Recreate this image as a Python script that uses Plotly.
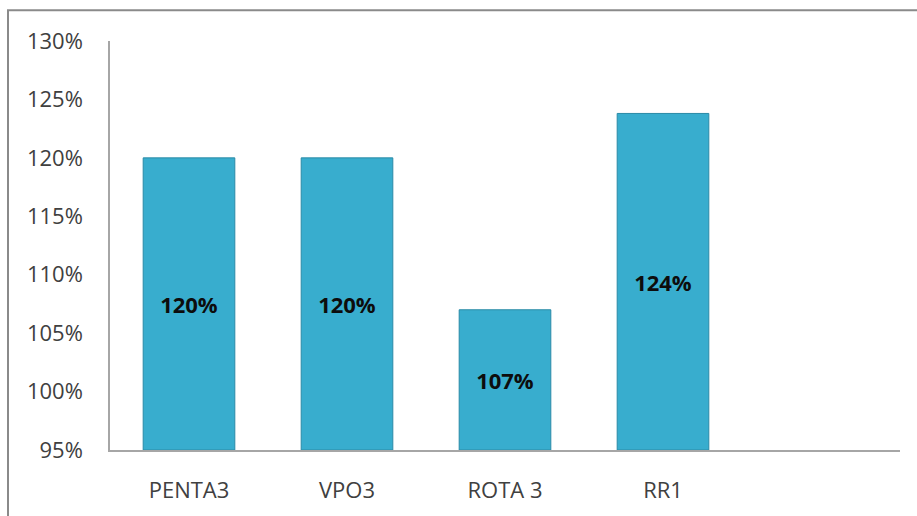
import plotly.graph_objects as go

categories = ["PENTA3", "VPO3", "ROTA 3", "RR1"]
values = [1.20, 1.20, 1.07, 1.238]
tick_values = [0.95, 1.00, 1.05, 1.10, 1.15, 1.20, 1.25, 1.30]
y_min, y_max = 0.95, 1.30

W, H = 917, 516
ml, mr, mt, mb = 110, 17, 41, 62
pw, ph = W - ml - mr, H - mt - mb

fig = go.Figure(
    go.Bar(
        x=categories,
        y=[v - y_min for v in values],
        base=[y_min] * len(values),
        customdata=values,
        marker=dict(color="#38ADCE", line=dict(color="#2A8AA6", width=1)),
        texttemplate="<b>%{customdata:.0%}</b>",
        hovertemplate="%{x}: %{customdata:.0%}<extra></extra>",
        textposition="inside",
        insidetextanchor="middle",
        textfont=dict(family="Open Sans", size=22, color="#0D0D0D"),
    )
)

def px_x(p):
    return (p - ml) / pw

def px_y(p):
    return (H - mb - p) / ph

fig.add_shape(
    type="rect", xref="paper", yref="paper",
    x0=px_x(8), x1=px_x(W + 20), y0=px_y(H + 20), y1=px_y(10),
    line=dict(color="#8A8A8A", width=2), fillcolor="rgba(0,0,0,0)", layer="below",
)

fig.update_layout(
    width=W, height=H,
    margin=dict(l=ml, r=mr, t=mt, b=mb, pad=0),
    paper_bgcolor="white", plot_bgcolor="white",
    showlegend=False,
    bargap=0.42,
    font=dict(family="Open Sans", size=22, color="#404040"),
    xaxis=dict(
        type="category", range=[-0.5, 4.5],
        showgrid=False, showline=True, linecolor="#A6A6A6", linewidth=1.5,
        ticks="", ticklabelstandoff=20, zeroline=False,
        tickfont=dict(family="Open Sans", size=22, color="#404040"),
    ),
    yaxis=dict(
        range=[y_min, y_max], tickvals=tick_values, tickformat=".0%",
        showgrid=False, showline=True, linecolor="#A6A6A6", linewidth=1.5,
        ticks="", ticklabelstandoff=21, zeroline=False,
        tickfont=dict(family="Open Sans", size=22, color="#404040"),
    ),
)

fig.write_html(
    "out.html",
    config={"displayModeBar": False},
    post_script="document.body.style.margin='0px';",
)
